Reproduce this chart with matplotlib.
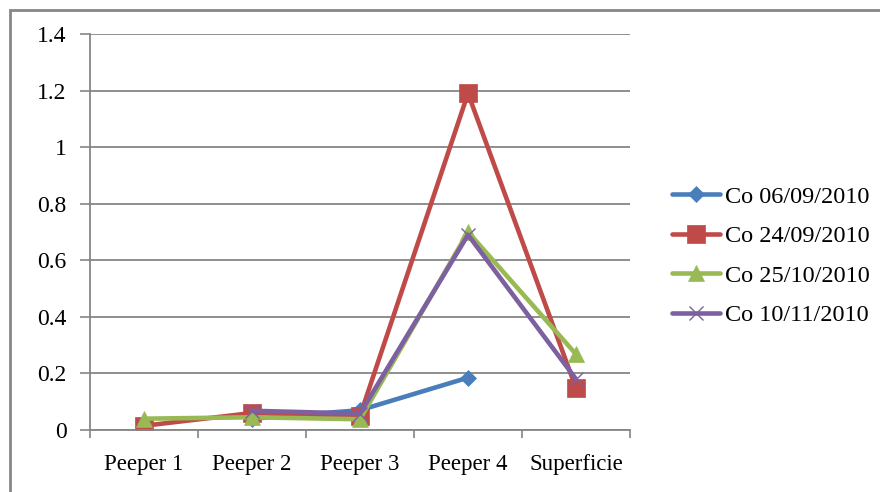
import matplotlib
matplotlib.use('Agg')
import matplotlib.pyplot as plt
import numpy as np

categories = ['Peeper 1', 'Peeper 2', 'Peeper 3', 'Peeper 4', 'Superficie']

# Co concentrations per sampling date (nan = no sample)
co_060910 = [np.nan, 0.04, 0.07, 0.185, np.nan]
co_240910 = [0.015, 0.06, 0.05, 1.19, 0.148]
co_251010 = [0.04, 0.045, 0.038, 0.70, 0.268]
co_101110 = [np.nan, 0.068, 0.058, 0.69, 0.18]

labels = ['Co 06/09/2010', 'Co 24/09/2010', 'Co 25/10/2010', 'Co 10/11/2010']
colors = ['#4A7EBB', '#BE4B48', '#98B954', '#7D60A0']
markers = ['D', 's', '^', 'x']
msizes = [8.5, 12.5, 12, 10]

plt.rcParams['font.family'] = ['Liberation Serif', 'DejaVu Serif']

fig = plt.figure(figsize=(8.8, 4.92), dpi=100)
ax = fig.add_axes([90 / 880, 1 - 430 / 492, 540 / 880, 396 / 492])

# outer chart frame
fig.add_artist(plt.Rectangle((10 / 880, -0.1), 1.2, 1 - 10 / 492 + 0.1,
                             transform=fig.transFigure, fill=False,
                             edgecolor='#868686', linewidth=2))

x = np.arange(len(categories))
series = [co_060910, co_240910, co_251010, co_101110]
for vals, lab, col, mk, ms in zip(series, labels, colors, markers, msizes):
    ax.plot(x, vals, color=col, linewidth=3.3, marker=mk, markersize=ms,
            markeredgewidth=1 if mk == 'x' else 0.5, label=lab,
            solid_joinstyle='round', solid_capstyle='round')

ax.set_xlim(-0.5, len(categories) - 0.5)
ax.set_ylim(0, 1.4)
ax.set_yticks(np.arange(0, 1.41, 0.2))
ax.set_yticklabels(['0', '0.2', '0.4', '0.6', '0.8', '1', '1.2', '1.4'])
ax.set_xticks(x)
ax.set_xticklabels(categories)
ax.set_xticks(np.arange(-0.5, len(categories), 1), minor=True)
ax.tick_params(axis='x', which='major', length=0, pad=17, labelsize=16.5)
ax.tick_params(axis='x', which='minor', length=6, width=1.2, color='#868686', direction='out')
ax.tick_params(axis='y', length=7, width=1.2, color='#868686', pad=10, labelsize=17)

ax.grid(axis='y', color='#868686', linewidth=1.3)
ax.set_axisbelow(True)
for side in ['top', 'right']:
    ax.spines[side].set_visible(False)
for side in ['left', 'bottom']:
    ax.spines[side].set_color('#868686')
    ax.spines[side].set_linewidth(1.3)

ax.legend(loc='center left', bbox_to_anchor=(650 / 880, 1 - 256 / 492),
          bbox_transform=fig.transFigure, frameon=False, fontsize=17.5,
          handlelength=2.0, handletextpad=0.2, labelspacing=0.72)

fig.savefig('out.png', dpi=100)
